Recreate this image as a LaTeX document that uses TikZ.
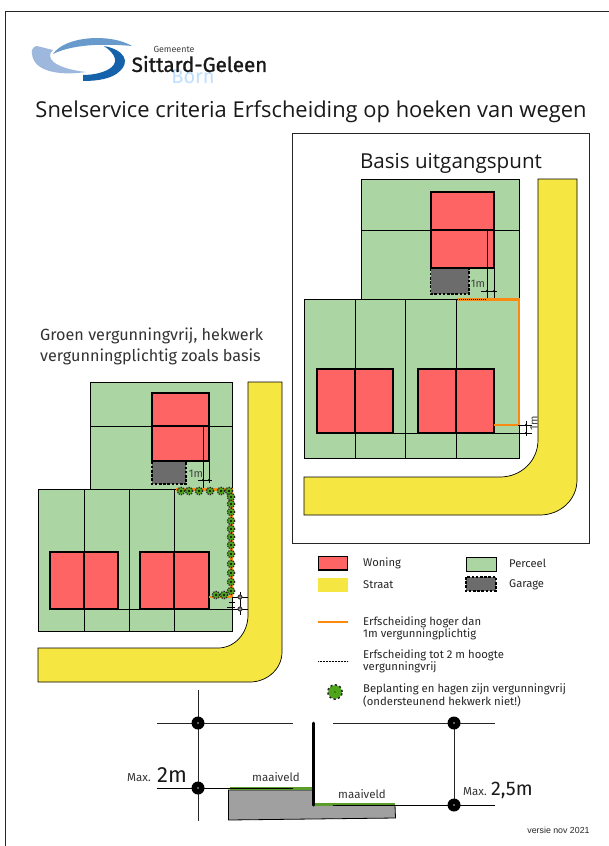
\documentclass[tikz,border=0pt]{standalone}
\usepackage{fontspec}
\setmainfont{Open Sans}
\newfontfamily\din{Fira Sans}
\newfontfamily\dinb[FakeBold=1.2]{Fira Sans}
\newfontfamily\arialf{Liberation Sans}
\usetikzlibrary{shapes.geometric}
\definecolor{grn}{HTML}{ABD6A4}
\definecolor{rood}{HTML}{FF6464}
\definecolor{geel}{HTML}{F5E642}
\definecolor{oranje}{HTML}{FB8A10}
\definecolor{gar}{HTML}{6C6C6C}
\definecolor{heg}{HTML}{4FA51A}
\definecolor{gras}{HTML}{5C9C2A}
\definecolor{grond}{HTML}{A0A0A0}
\tikzset{
  perceel/.style={fill=grn,draw=black,line width=0.8pt},
  woning/.style={fill=rood,draw=black,line width=1.9pt},
  divline/.style={draw=black,line width=0.8pt},
  thin line/.style={draw=black,line width=0.7pt},
  garage/.style={fill=gar,draw=black,line width=1.7pt,dash pattern=on 2.6pt off 1.6pt},
  straat/.style={fill=geel,draw=black,line width=0.7pt},
  orange/.style={draw=oranje,line width=2.7pt},
  dotline/.style={draw=black,line width=1.1pt,dash pattern=on 1pt off 1pt},
  peil/.style={circle,fill=black,minimum size=13pt,inner sep=0pt},
  lab/.style={font=\din\fontsize{11.2}{11.5}\selectfont,anchor=west,inner sep=0pt,text=black!85},
  lab2/.style={font=\din\fontsize{11.3}{11.2}\selectfont,anchor=west,inner sep=0pt,align=left,text=black!85},
  kaart/.style={font=\din\fontsize{11.5}{12}\selectfont,inner sep=0pt,text=black!80},
  bush/.pic={
    \fill[heg] (0,0) circle (3.4pt);
    \draw[black!85,line width=1.2pt,dash pattern=on 1.4pt off 1pt] (0,0) circle (3.7pt);
    \fill[black] (0,0) circle (1.2pt);
  },
  bigbush/.pic={
    \fill[heg] (0,0) circle (6.8pt);
    \draw[black!85,line width=1.5pt,dash pattern=on 2.2pt off 2.4pt] (0,0) circle (7.2pt);
    \fill[black] (0,0) circle (0.7pt);
  },
}
\begin{document}
\begin{tikzpicture}[x=1pt,y=-1pt]
\useasboundingbox (0,0) rectangle (608,846);
\fill[white] (0,0) rectangle (608,846);
% page frame
\draw[black!85,line width=0.9pt] (5.5,850) -- (5.5,11) -- (612,11);
% logo
\fill[color={rgb,255:red,157;green,184;blue,220}] (32,50) .. controls (33,47) and (35,46) .. (37,46) -- (53,50) .. controls (45,57) and (52,68) .. (86,72) .. controls (60,76) and (30,72) .. (32,50) -- cycle;
\fill[color={rgb,255:red,104;green,155;blue,203}] (53,54) .. controls (65,36) and (110,33) .. (132,46) .. controls (110,44) and (75,43) .. (53,54) -- cycle;
\fill[color={rgb,255:red,22;green,98;blue,170}] (104,46) .. controls (125,50) and (130,62) .. (120,71) .. controls (112,79) and (97,81) .. (83,81) -- (83,75) .. controls (105,75) and (130,64) .. (104,46) -- cycle;
\node[inner sep=0pt,text=black!75] (gem) at (174,49) {\din\fontsize{8.9}{9}\selectfont Gemeente};
\node[inner sep=0pt,text=blue!50!cyan!25] (born) at (193,77) {\din\fontsize{20}{20}\selectfont Born};
\node[inner sep=0pt,text=black!90] (sg) at (199.5,64) {\dinb\fontsize{20.6}{21}\selectfont Sittard-Geleen};
% title
\node[inner sep=0pt,text=black!90] (title) at (311,112) {\fontsize{21.9}{22}\selectfont Snelservice criteria Erfscheiding op hoeken van wegen};
% basis frame
\draw[black!85,line width=0.9pt] (292,133) rectangle (589,543);
\node[inner sep=0pt,text=black!90] (basis) at (451,163) {\fontsize{20.6}{21}\selectfont Basis uitgangspunt};
% --- right diagram
\path[straat] (538,179) -- (577,179) -- (577,480) .. controls (577,500) and (560,515) .. (540,515) -- (304,515) -- (304,477) -- (500,477) .. controls (521,477) and (538,461) .. (538,440) -- cycle;
\path[perceel] (361,179) rectangle (519,299);
\path[perceel] (304,299) rectangle (519,458);
\draw[black,line width=1pt] (304,458) -- (519,458);
\draw[divline] (361,230) -- (519,230);
\draw[divline] (355,299) -- (355,458) (405,299) -- (405,458) (456,299) -- (456,458);
\path[woning] (431,192) rectangle (494,268);
\draw[woning,fill=none] (431,230) -- (494,230);
\draw[thin line] (487,230) -- (487,300) (494,268) -- (494,300);
\path[garage] (430.5,268.5) rectangle (469,294);
\node[inner sep=0pt,text=black!75] (m1a) at (478,284) {\din\fontsize{11}{11}\selectfont 1m};
\draw[thin line,line width=0.8pt] (481,291) -- (497,291);
\fill (487,291) circle (1.2pt) (494,291) circle (1.2pt);
\path[woning] (317,369) rectangle (393,433);
\path[woning] (418,369) rectangle (494,433);
\draw[woning,fill=none] (355,369) -- (355,433) (456,369) -- (456,433);
\draw[thin line] (393,433) -- (418,433) (494,433) -- (520,433);
\draw[orange] (457,299.5) -- (519,299.5) -- (519,425) -- (494,425);
\draw[dotline] (457,299.5) -- (487,299.5);
\draw[thin line,line width=0.8pt] (526,421) -- (526,436);
\draw[thin line,line width=0.8pt] (518,425) -- (532,425) (518,433) -- (532,433);
\fill (526,425) circle (1.2pt) (526,433) circle (1.2pt);
\node[inner sep=0pt,rotate=90,text=black!75] (m1b) at (534,423) {\din\fontsize{11}{11}\selectfont 1m};
% --- left caption
\node[kaart,anchor=west,font=\din\fontsize{16.2}{17}\selectfont] (cap1) at (40,336) {Groen vergunningvrij, hekwerk};
\node[kaart,anchor=west,font=\din\fontsize{16.2}{17}\selectfont] (cap2) at (40,357) {vergunningplichtig zoals basis};
% --- left diagram
\path[straat] (248,382) -- (282,382) -- (282,652) .. controls (282,669) and (267,682) .. (250,682) -- (38,682) -- (38,648) -- (218,648) .. controls (235,648) and (248,633) .. (248,615) -- cycle;
\path[perceel] (90,382) rectangle (232,489);
\path[perceel] (38,489) rectangle (232,631);
\draw[black,line width=1pt] (38,631) -- (232,631);
\draw[divline] (90,426) -- (232,426);
\draw[divline] (84,489) -- (84,631) (129,489) -- (129,631) (174,489) -- (174,631);
\path[woning] (152,393) rectangle (209,461);
\draw[woning,fill=none] (152,426) -- (209,426);
\draw[thin line] (203,426) -- (203,489) (209,461) -- (209,483);
\path[garage] (152,461.5) rectangle (186,484);
\node[inner sep=0pt,text=black!75] (m1c) at (196,474) {\din\fontsize{11}{11}\selectfont 1m};
\draw[thin line,line width=0.8pt] (198,480) -- (212,480);
\fill (203,480) circle (1.2pt) (209,480) circle (1.2pt);
\path[woning] (50,552) rectangle (118,609);
\path[woning] (140,552) rectangle (209,609);
\draw[woning,fill=none] (84,552) -- (84,609) (174,552) -- (174,609);
\draw[thin line] (118,609) -- (140,609) (209,609) -- (232,609);
\draw[orange] (176,489.5) -- (231.5,489.5) -- (231.5,597) -- (209,597);
\foreach \p in {(181,491),(189,491),(199,491),(210,491),(221,491),(229,491),(231,497),(231,504),(231,512),(231,521),(231,529),(231,537),(231,545),(231,554),(231,564),(231,573),(231,582),(231,591),(216,595),(224,595)}
  \pic at \p {bush};
\draw[thin line,line width=0.7pt] (232,597) -- (248,597) (232,609) -- (248,609) (240,592) -- (240,615);
\draw[thin line,line width=0.7pt] (229,602) -- (235,602) (227,607) -- (235,607);
\fill[black!75] (240,597) circle (2.6pt) (240,609) circle (2.6pt);
\fill[white!70!black] (240,597) circle (1pt) (240,609) circle (1pt);
% --- legend
\path[woning] (318.5,556.5) rectangle (347.5,570);
\path[perceel] (466,557) rectangle (496,571);
\fill[geel] (318,578) rectangle (348,592);
\path[garage] (466,577) rectangle (496,591);
\node[lab] (l1) at (363,563.5) {Woning};
\node[lab] (l2) at (363,585) {Straat};
\node[lab] (l3) at (509,563) {Perceel};
\node[lab] (l4) at (509,585) {Garage};
\draw[orange] (318,622) -- (348,622);
\node[lab2] (l5) at (363,628.5) {Erfscheiding hoger dan\\1m vergunningplichtig};
\draw[black,line width=0.9pt,dash pattern=on 0.9pt off 0.6pt] (318,661) -- (348,661);
\node[lab2] (l6) at (363,661.5) {Erfscheiding tot 2 m hoogte\\vergunningvrij};
\pic at (335,692) {bigbush};
\node[lab2] (l7) at (363,695) {Beplanting en hagen zijn vergunningvrij\\(ondersteunend hekwerk niet!)};
% --- section
\fill[grond] (228.5,790) -- (313,790) -- (313,805) -- (395,805) -- (395.5,818) -- (228.5,820) -- cycle;
\draw[black,line width=0.8pt] (395,805) -- (395.5,818) -- (228.5,820) -- (228.5,790) -- (313,790);
\fill[gras] (230,787) rectangle (313,790);
\fill[gras] (313,802.5) rectangle (395,806);
\draw[black!85,line width=0.8pt] (157,723) -- (293,723) (333,723) -- (495,723);
\draw[black,line width=0.8pt] (157,788) -- (293,788) (333,805) -- (495,805);
\draw[black!85,line width=0.8pt] (198,690) -- (198,821) (454,723) -- (454,805);
\draw[black,line width=3pt,line cap=round] (313,723) -- (313,805);
\node[peil] (p1) at (198,723) {};
\node[peil] (p2) at (198,788) {};
\node[peil] (p3) at (454,723) {};
\node[peil] (p4) at (454,805) {};
\foreach \n in {p1,p2,p3,p4} \fill[white!75!black] (\n) circle (0.9pt);
\node[kaart] (m1) at (276,777) {maaiveld};
\node[kaart] (m2) at (362,794) {maaiveld};
\node[kaart,anchor=west] (x1) at (127,778) {Max.};
\node[inner sep=0pt,anchor=west,text=black!90] (x2) at (157,775) {\din\fontsize{22}{22}\selectfont 2m};
\node[kaart,anchor=west] (x3) at (463,792) {Max.};
\node[inner sep=0pt,anchor=west,text=black!90] (x4) at (491,790) {\din\fontsize{19.7}{20}\selectfont 2,5m};
\node[inner sep=0pt,text=black!85] (v) at (558.5,830.5) {\arialf\fontsize{8.8}{9}\selectfont versie nov 2021};
\end{tikzpicture}
\end{document}
